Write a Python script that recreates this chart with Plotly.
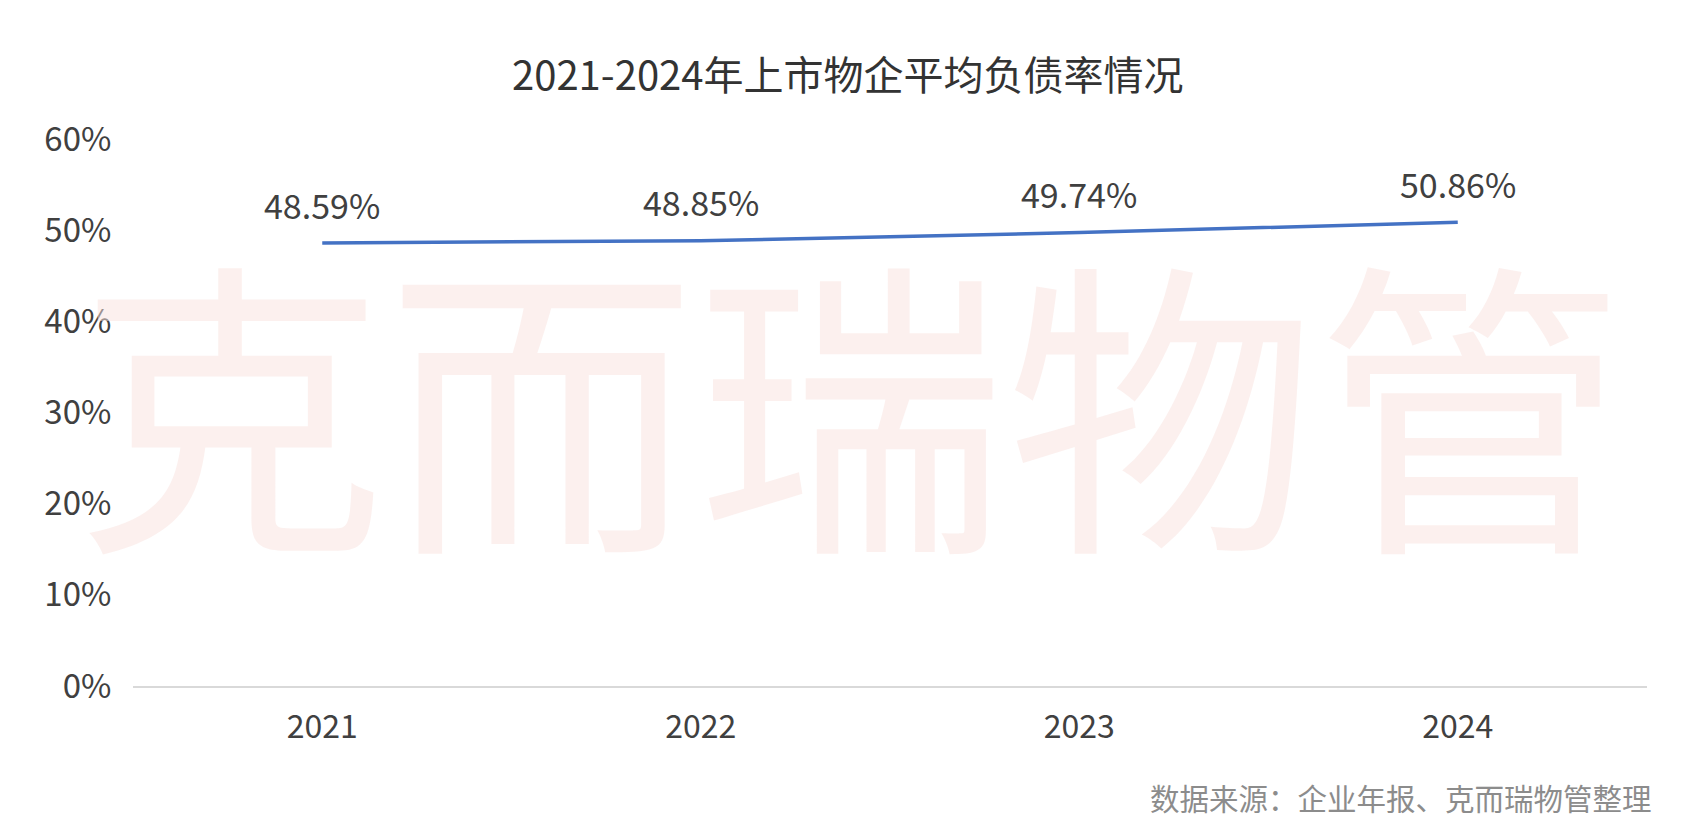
import plotly.graph_objects as go

years = ["2021", "2022", "2023", "2024"]
debt_ratio = [48.59, 48.85, 49.74, 50.86]
label_text = ["48.59%", "48.85%", "49.74%", "50.86%"]
y_ticks = [0, 10, 20, 30, 40, 50, 60]
y_tick_text = ["0%", "10%", "20%", "30%", "40%", "50%", "60%"]

title_text = "2021-2024年上市物企平均负债率情况"
source_text = "数据来源：企业年报、克而瑞物管整理"
watermark_text = "克而瑞物管"

FONT = "Noto Sans CJK SC"

# page has an 8px body margin; lay the figure out in page pixels
OFF = 8
PAGE_W, PAGE_H = 1701, 826
W, H = PAGE_W - OFF, PAGE_H - OFF
plot_l, plot_r, plot_t, plot_b = 133, 1647, 139, 686  # page pixels
left, top = plot_l - OFF, plot_t - OFF
right, bottom = PAGE_W - plot_r, PAGE_H - plot_b
pw, ph = plot_r - plot_l, plot_b - plot_t


def px(xp):
    return (xp - plot_l) / pw


def py(yp):
    return (plot_b - yp) / ph


fig = go.Figure()
fig.add_trace(go.Scatter(
    x=years, y=debt_ratio, mode="lines",
    line=dict(color="#4472c4", width=3.5, shape="spline", smoothing=0.5),
    hoverinfo="skip", showlegend=False,
))

annotations = [
    dict(text=watermark_text, xref="paper", yref="paper",
         x=px(851), y=py(393), xanchor="center", yanchor="middle",
         showarrow=False,
         font=dict(family=FONT, size=310, color="rgba(250,225,222,0.5)")),
    dict(text=title_text, xref="paper", yref="paper",
         x=px(847), y=py(73), xanchor="center", yanchor="middle", showarrow=False,
         font=dict(family=FONT, size=40, color="#333333")),
    dict(text=source_text, xref="paper", yref="paper",
         x=px(1654), y=py(797), xanchor="right", yanchor="middle", showarrow=False,
         font=dict(family=FONT, size=29.5, color="#8c8c8c")),
]
for i, (yv, t) in enumerate(zip(debt_ratio, label_text)):
    annotations.append(dict(
        x=i, y=yv, xref="x", yref="y", text=t, showarrow=False,
        xanchor="center", yanchor="middle", yshift=39,
        font=dict(family=FONT, size=34, color="#404040"),
    ))

fig.update_layout(
    width=W, height=H,
    margin=dict(l=left, r=right, t=top, b=bottom, pad=0),
    paper_bgcolor="white", plot_bgcolor="white",
    font=dict(family=FONT, color="#404040"),
    xaxis=dict(
        type="category", range=[-0.5, 3.5], automargin=False,
        showgrid=False, zeroline=False,
        showline=True, linecolor="#d9d9d9", linewidth=2,
        ticks="outside", ticklen=12, tickcolor="rgba(0,0,0,0)",
        tickfont=dict(family=FONT, size=32, color="#404040"),
    ),
    yaxis=dict(
        range=[0, 60], tickvals=y_ticks, ticktext=y_tick_text, automargin=False,
        showgrid=False, zeroline=False, showline=False,
        ticks="outside", ticklen=14, tickcolor="rgba(0,0,0,0)",
        tickfont=dict(family=FONT, size=33, color="#404040"),
    ),
    annotations=annotations,
)

fig.write_html("out.html")
